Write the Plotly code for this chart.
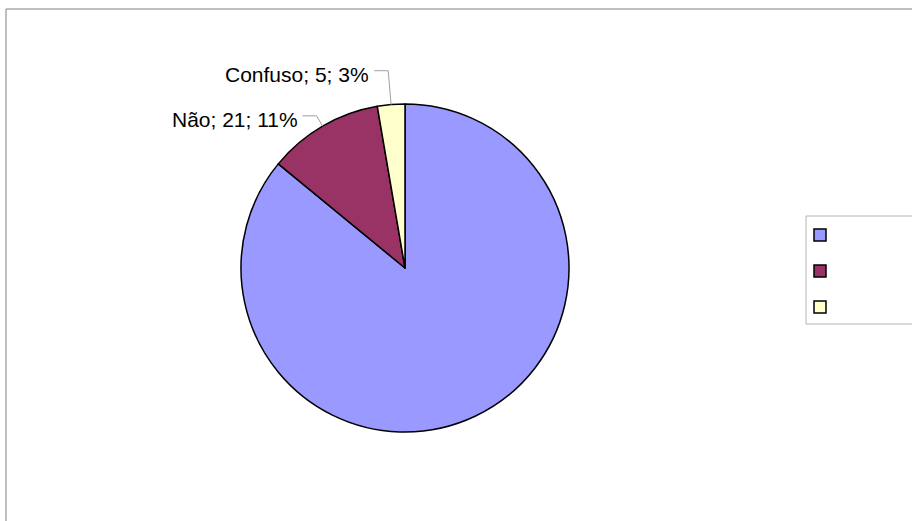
import math
import plotly.graph_objects as go

# Survey answers
labels = ["Sim", "Não", "Confuso"]
values = [159, 21, 5]
colors = ["#9999FF", "#993366", "#FFFFCC"]
show_label = [False, True, True]

W, H = 912, 521

# Pie placement (pixels)
cx, cy, r = 405, 268, 164
leader_out = [0, 12, 34]   # radial leader length per slice
leader_h = 14              # horizontal leader length
text_gap = 3


def px(x):
    return x / W


def py(y):
    return 1 - y / H


fig = go.Figure()
fig.add_trace(go.Pie(
    labels=labels,
    values=values,
    marker=dict(colors=colors, line=dict(color="#000000", width=1.5)),
    sort=False,
    direction="clockwise",
    rotation=0,
    textinfo="none",
    hoverinfo="label+value+percent",
    showlegend=False,
    domain=dict(x=[px(cx - r), px(cx + r)], y=[py(cy + r), py(cy - r)]),
))

shapes = []
annotations = []
total = sum(values)
cum = 0.0
for lab, v, show in zip(labels, values, show_label):
    start = cum / total * 360
    cum += v
    end = cum / total * 360
    if not show:
        continue
    i = labels.index(lab)
    mid = math.radians((start + end) / 2)
    ex, ey = cx + r * math.sin(mid), cy - r * math.cos(mid)
    d = leader_out[i]
    bx, by = ex + d * math.sin(mid), ey - d * math.cos(mid)
    hx = bx - leader_h
    shapes.append(dict(
        type="path",
        xref="paper", yref="paper",
        path=f"M {px(ex)} {py(ey)} L {px(bx)} {py(by)} L {px(hx)} {py(by)}",
        line=dict(color="#A0A0A0", width=1),
    ))
    pct = round(v / total * 100)
    annotations.append(dict(
        x=px(hx - text_gap), y=py(by + 4),
        xref="paper", yref="paper",
        xanchor="right", yanchor="middle",
        text=f"{lab}; {v}; {pct}%",
        showarrow=False,
        font=dict(family="Liberation Sans, Arial, sans-serif", size=21, color="#000000"),
    ))

# Chart frame (top and left edges)
shapes.append(dict(type="line", xref="paper", yref="paper",
                   x0=px(6), y0=py(9), x1=1, y1=py(9),
                   line=dict(color="#808080", width=1)))
shapes.append(dict(type="line", xref="paper", yref="paper",
                   x0=px(6), y0=py(9), x1=px(6), y1=0,
                   line=dict(color="#808080", width=1)))

# Legend box with colour keys
shapes.append(dict(type="rect", xref="paper", yref="paper",
                   x0=px(806), y0=py(324), x1=px(W + 5), y1=py(216),
                   line=dict(color="#B4B4B4", width=1), fillcolor="rgba(0,0,0,0)"))
for k, col in enumerate(colors):
    yc = 235 + 36 * k
    shapes.append(dict(type="rect", xref="paper", yref="paper",
                       x0=px(814), y0=py(yc + 6), x1=px(826), y1=py(yc - 6),
                       line=dict(color="#000000", width=1.5), fillcolor=col))

fig.update_layout(
    width=W, height=H,
    margin=dict(l=0, r=0, t=0, b=0),
    paper_bgcolor="#FFFFFF",
    plot_bgcolor="#FFFFFF",
    shapes=shapes,
    annotations=annotations,
    showlegend=False,
)

fig.write_html("out.html")
